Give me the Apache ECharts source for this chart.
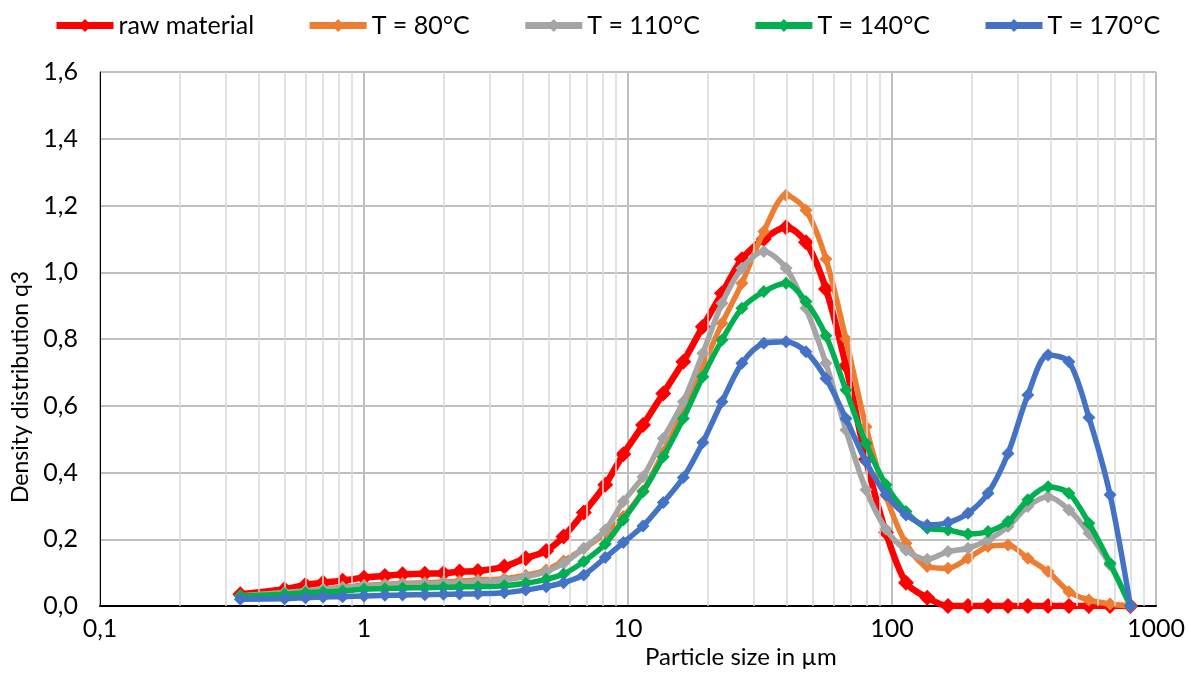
<!DOCTYPE html>
<html>
<head>
<meta charset="utf-8">
<script src="https://cdn.jsdelivr.net/npm/echarts@6/dist/echarts.min.js"></script>
<style>
  html, body { margin: 0; padding: 0; background: #fff; }
  #chart { width: 1193px; height: 675px; }
</style>
</head>
<body>
<div id="chart"></div>
<script>
// particle sizes in µm
const sizes = [0.34, 0.5, 0.6, 0.7, 0.83, 1.0, 1.2, 1.4, 1.7, 2.0, 2.3, 2.7, 3.4, 4.1, 4.9, 5.7, 6.8, 8.2, 9.6, 11.4,
  13.6, 16.2, 19.2, 22.7, 27, 32.7, 39.7, 47.2, 56.2, 66.9, 79.7, 94.9, 113, 136, 163, 194, 231, 275, 327, 390,
  468, 557, 670, 800];

const rawMaterial = [0.035, 0.05, 0.063, 0.07, 0.076, 0.085, 0.09, 0.095, 0.097, 0.098, 0.103, 0.105, 0.118, 0.143, 0.165, 0.208, 0.28, 0.363, 0.455, 0.542,
  0.637, 0.732, 0.837, 0.937, 1.039, 1.10, 1.135, 1.09, 0.95, 0.72, 0.44, 0.22, 0.07, 0.025, 0, 0, 0, 0, 0, 0,
  0, 0, 0, 0];
const t80 = [0.03, 0.04, 0.045, 0.05, 0.056, 0.062, 0.065, 0.068, 0.07, 0.072, 0.075, 0.078, 0.082, 0.092, 0.108, 0.135, 0.172, 0.218, 0.268, 0.345,
  0.46, 0.585, 0.717, 0.847, 0.967, 1.122, 1.231, 1.186, 1.04, 0.80, 0.537, 0.33, 0.188, 0.118, 0.113, 0.143, 0.178, 0.183, 0.143, 0.103,
  0.043, 0.018, 0.006, 0];
const t110 = [0.03, 0.04, 0.045, 0.05, 0.055, 0.06, 0.062, 0.065, 0.067, 0.068, 0.07, 0.073, 0.078, 0.088, 0.103, 0.128, 0.173, 0.228, 0.313, 0.387,
  0.502, 0.612, 0.757, 0.907, 1.012, 1.062, 1.012, 0.892, 0.727, 0.527, 0.348, 0.23, 0.167, 0.14, 0.163, 0.173, 0.198, 0.238, 0.298, 0.327,
  0.288, 0.218, 0.123, 0];
const t140 = [0.03, 0.035, 0.04, 0.042, 0.045, 0.05, 0.052, 0.054, 0.055, 0.056, 0.057, 0.058, 0.061, 0.068, 0.08, 0.096, 0.133, 0.186, 0.258, 0.342,
  0.447, 0.562, 0.687, 0.797, 0.892, 0.942, 0.967, 0.912, 0.81, 0.647, 0.487, 0.363, 0.283, 0.233, 0.228, 0.216, 0.223, 0.253, 0.318, 0.357,
  0.338, 0.248, 0.128, 0];
const t170 = [0.02, 0.022, 0.025, 0.027, 0.028, 0.03, 0.032, 0.033, 0.034, 0.035, 0.036, 0.037, 0.04, 0.048, 0.058, 0.07, 0.093, 0.145, 0.19, 0.24,
  0.31, 0.385, 0.49, 0.612, 0.727, 0.787, 0.792, 0.762, 0.682, 0.562, 0.432, 0.333, 0.273, 0.243, 0.25, 0.278, 0.338, 0.457, 0.632, 0.752,
  0.732, 0.565, 0.333, 0];

const seriesNames = ['raw material', 'T = 80°C', 'T = 110°C', 'T = 140°C', 'T = 170°C'];
const seriesColors = ['#ff0000', '#ed7d31', '#a5a5a5', '#00b050', '#4472c4'];
const seriesValues = [rawMaterial, t80, t110, t140, t170];

// minor vertical gridlines 2..9 within each decade
const minorGrid = [];
[0.1, 1, 10, 100].forEach(base => {
  [2, 3, 4, 5, 6, 7, 8, 9].forEach(m => minorGrid.push({ xAxis: +(base * m).toPrecision(3) }));
});

const FONT = 'Lato';
const chart = echarts.init(document.getElementById('chart'), null, { renderer: 'canvas' });

const option = {
  animation: false,
  textStyle: { fontFamily: FONT },
  legend: {
    top: 8,
    left: 48,
    itemWidth: 57,
    itemHeight: 16,
    itemGap: 52,
    data: seriesNames,
    lineStyle: { width: 7 },
    textStyle: { fontSize: 25, color: '#000', fontFamily: FONT }
  },
  grid: {
    left: 100,
    right: 37,
    top: 72,
    bottom: 69,
    show: true,
    borderColor: '#000',
    borderWidth: 1
  },
  xAxis: {
    type: 'log',
    logBase: 10,
    min: 0.1,
    max: 1000,
    axisLine: { show: true, lineStyle: { color: '#000', width: 2 } },
    axisTick: { show: false },
    axisLabel: {
      fontSize: 25,
      color: '#000',
      margin: 10,
      formatter: v => String(v).replace('.', ',')
    },
    splitLine: { show: true, lineStyle: { color: '#bfbfbf', width: 2 } }
  },
  yAxis: {
    type: 'value',
    min: 0,
    max: 1.6,
    interval: 0.2,
    axisLine: { show: true, lineStyle: { color: '#000', width: 1 } },
    axisTick: { show: false },
    axisLabel: {
      fontSize: 25,
      color: '#000',
      margin: 22,
      formatter: v => v.toFixed(1).replace('.', ',')
    },
    splitLine: { show: true, lineStyle: { color: '#bfbfbf', width: 2 } }
  },
  graphic: [
    {
      type: 'text',
      left: 645,
      top: 645,
      style: { text: 'Particle size in µm', fontSize: 24, fill: '#000', fontFamily: FONT }
    },
    {
      type: 'text',
      x: 9,
      y: 503,
      rotation: Math.PI / 2,
      style: { text: 'Density distribution q3', fontSize: 23, fill: '#000', fontFamily: FONT, textVerticalAlign: 'top' }
    }
  ],
  series: [
    {
      type: 'line',
      name: '_grid',
      data: [],
      silent: true,
      z: 1,
      markLine: {
        silent: true,
        symbol: 'none',
        label: { show: false },
        lineStyle: { color: '#d9d9d9', width: 1.5, type: 'solid' },
        data: minorGrid
      }
    },
    ...seriesNames.map((name, i) => ({
      type: 'line',
      name,
      smooth: 0.3,
      symbol: 'diamond',
      symbolSize: i === 0 ? 16 : 13,
      color: seriesColors[i],
      lineStyle: { width: i === 0 ? 6.5 : 5.5, color: seriesColors[i] },
      itemStyle: { color: seriesColors[i] },
      z: 3 + i,
      data: sizes.map((s, k) => [s, seriesValues[i][k]])
    }))
  ]
};

chart.setOption(option);
</script>
</body>
</html>
